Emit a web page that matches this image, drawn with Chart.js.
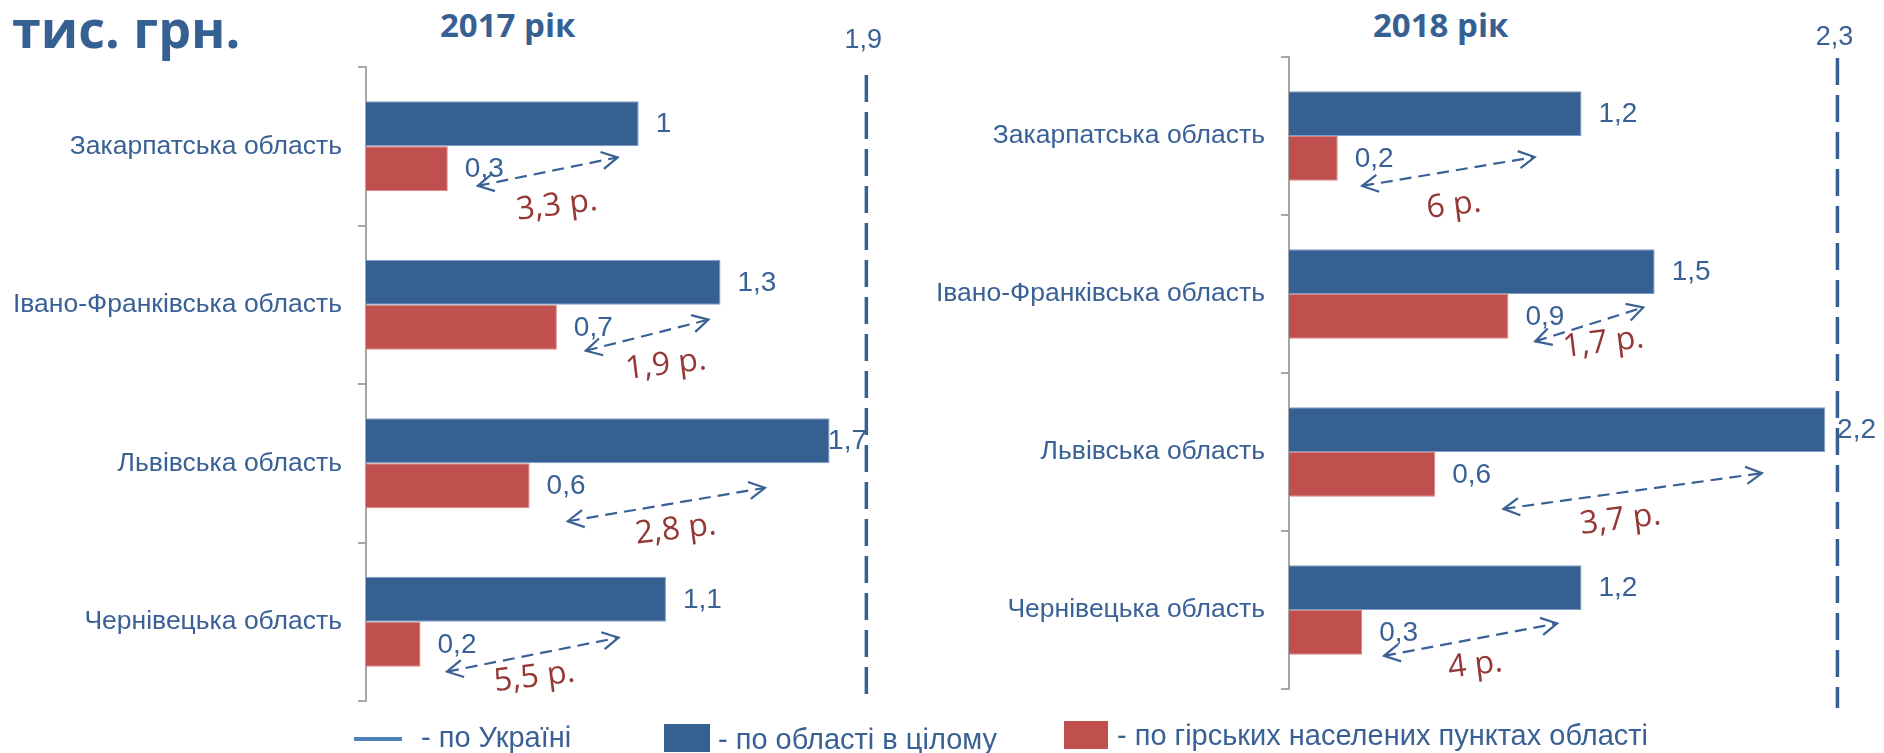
<!DOCTYPE html>
<html>
<head>
<meta charset="utf-8">
<title>Доходи по областях</title>
<script src="https://cdn.jsdelivr.net/npm/chart.js"></script>
<style>
  body { margin: 0; width: 1884px; height: 753px; background: #fff; position: relative; overflow: hidden; }
  canvas { position: absolute; top: 0; }
  #chart2017 { left: 0; }
  #chart2018 { left: 880px; }
  .head { position: absolute; font-family: "Open Sans", sans-serif; font-weight: bold; color: #376092; white-space: nowrap; line-height: 1; }
  .leg { position: absolute; font-family: "Liberation Sans", Arial, sans-serif; font-size: 29px; color: #3a6196; white-space: nowrap; line-height: 1; }
  .box { position: absolute; }
</style>
</head>
<body>
<div class="head" style="left:12px; top:2px; font-size:52px;">тис. грн.</div>
<div class="head" style="left:440px; top:8px; font-size:33px;">2017 рік</div>
<div class="head" style="left:1373px; top:8px; font-size:33px;">2018 рік</div>

<canvas id="chart2017" width="910" height="753"></canvas>
<canvas id="chart2018" width="1004" height="753"></canvas>

<div class="box" style="left:354px; top:737px; width:48px; height:4px; background:#4f81bd;"></div>
<div class="leg" style="left:421px; top:723px;">- по Україні</div>
<div class="box" style="left:664px; top:724px; width:46px; height:28px; background:#376092;"></div>
<div class="leg" style="left:718px; top:725px;">- по області в цілому</div>
<div class="box" style="left:1064px; top:721px; width:44px; height:28px; background:#c0504d;"></div>
<div class="leg" style="left:1117px; top:721px;">- по гірських населених пунктах області</div>

<script>
// ------------- Data -------------
const regions = ['Закарпатська область', 'Івано-Франківська область', 'Львівська область', 'Чернівецька область'];

const total2017 = [1.0, 1.3, 1.7, 1.1];
const mountain2017 = [0.3, 0.7, 0.6, 0.2];
const ratio2017 = ['3,3 р.', '1,9 р.', '2,8 р.', '5,5 р.'];

const total2018 = [1.2, 1.5, 2.2, 1.2];
const mountain2018 = [0.2, 0.9, 0.6, 0.3];
const ratio2018 = ['6 р.', '1,7 р.', '3,7 р.', '4 р.'];

// "по Україні" dashed line: where it sits and what it says
const ukraineValue = [1.835, 2.25];
const ukraineText = ['1,9', '2,3'];

const BLUE = '#376092';
const RED = '#c0504d';
const TEXT = '#3a6196';
const RATIO = '#953735';

const fmt = v => String(v).replace('.', ',');

// arrow placement per category: [x1, dy1, x2, dy2, textX, textDy] (x in data units, dy in category bands)
const arrows2017 = [
    [0.41, 0.25, 0.923, 0.07, 0.70, 0.375],
    [0.806, 0.29, 1.256, 0.094, 1.10, 0.38],
    [0.74, 0.366, 1.463, 0.155, 1.136, 0.42],
    [0.297, 0.315, 0.926, 0.10, 0.618, 0.35]
];
const arrows2018 = [
    [0.30, 0.316, 1.008, 0.133, 0.676, 0.44],
    [1.01, 0.30, 1.453, 0.085, 1.29, 0.31],
    [0.88, 0.36, 1.94, 0.134, 1.36, 0.43],
    [0.39, 0.29, 1.10, 0.085, 0.764, 0.35]
];

function drawHead(ctx, x, y, ang) {
    const len = 18, spread = 0.5;
    ctx.beginPath();
    ctx.moveTo(x + len * Math.cos(ang + spread), y + len * Math.sin(ang + spread));
    ctx.lineTo(x, y);
    ctx.lineTo(x + len * Math.cos(ang - spread), y + len * Math.sin(ang - spread));
    ctx.stroke();
}

// ------------- Annotations plugin -------------
const annotate = {
    id: 'annotate',
    afterDatasetsDraw(chart, args, opts) {
        const ctx = chart.ctx;
        const xs = chart.scales.x, ys = chart.scales.y, area = chart.chartArea;
        const band = ys.getPixelForValue(1) - ys.getPixelForValue(0);
        ctx.save();

        // value labels
        ctx.font = '28px "Liberation Sans"';
        ctx.fillStyle = TEXT;
        ctx.textBaseline = 'middle';
        ctx.textAlign = 'left';
        chart.data.datasets.forEach((ds, di) => {
            chart.getDatasetMeta(di).data.forEach((bar, i) => {
                const t = fmt(ds.data[i]);
                const w = ctx.measureText(t).width;
                let x = bar.x + 17;
                if (x + w > area.right + 2) x = area.right + 2 - w;
                ctx.fillText(t, x, bar.y + 1);
            });
        });

        // Ukraine line
        const lx = xs.getPixelForValue(opts.line);
        ctx.strokeStyle = BLUE;
        ctx.lineWidth = 3.5;
        ctx.setLineDash([27, 10]);
        ctx.beginPath();
        ctx.moveTo(lx, area.top + opts.lineTop);
        ctx.lineTo(lx, area.bottom + opts.lineBottom);
        ctx.stroke();
        ctx.setLineDash([]);
        ctx.textAlign = 'center';
        ctx.font = '27px "Liberation Sans"';
        ctx.fillText(opts.lineText, lx - 3, opts.lineTextY);

        // arrows + ratio text
        ctx.lineWidth = 2.2;
        opts.arrows.forEach((a, i) => {
            const yc = ys.getPixelForValue(i);
            const x1 = xs.getPixelForValue(a[0]), y1 = yc + a[1] * band;
            const x2 = xs.getPixelForValue(a[2]), y2 = yc + a[3] * band;
            ctx.strokeStyle = TEXT;
            ctx.setLineDash([12, 7]);
            ctx.beginPath();
            ctx.moveTo(x1, y1);
            ctx.lineTo(x2, y2);
            ctx.stroke();
            ctx.setLineDash([]);
            const ang = Math.atan2(y2 - y1, x2 - x1);
            drawHead(ctx, x1, y1, ang);
            drawHead(ctx, x2, y2, ang + Math.PI);

            const tx = xs.getPixelForValue(a[4]), ty = yc + a[5] * band;
            ctx.save();
            ctx.translate(tx, ty);
            ctx.rotate(-7 * Math.PI / 180);
            ctx.font = '32px "Open Sans"';
            ctx.fillStyle = RATIO;
            ctx.textAlign = 'center';
            ctx.textBaseline = 'middle';
            ctx.fillText(opts.ratios[i], 0, 0);
            ctx.restore();
        });
        ctx.restore();
    }
};

function makeChart(id, total, mountain, cfg) {
    return new Chart(document.getElementById(id), {
        type: 'bar',
        data: {
            labels: regions,
            datasets: [
                { label: 'по області в цілому', data: total, backgroundColor: BLUE, borderColor: '#7f9cc6', borderWidth: 1 },
                { label: 'по гірських населених пунктах області', data: mountain, backgroundColor: RED, borderColor: '#d98482', borderWidth: 1 }
            ]
        },
        options: {
            indexAxis: 'y',
            responsive: false,
            animation: false,
            categoryPercentage: 0.568,
            barPercentage: 1.0,
            layout: { padding: cfg.padding },
            scales: {
                x: { display: false, min: 0, max: cfg.max },
                y: {
                    afterFit: s => { s.width = cfg.axisX; },
                    ticks: { color: TEXT, padding: 16, font: { family: 'Liberation Sans', size: 26.5 } },
                    grid: { drawOnChartArea: false, tickLength: 8, color: '#a6a6a6', lineWidth: 2, offset: true },
                    border: { color: '#a6a6a6', width: 2 }
                }
            },
            plugins: {
                legend: { display: false },
                tooltip: { enabled: false },
                annotate: cfg.annot
            }
        },
        plugins: [annotate]
    });
}

makeChart('chart2017', total2017, mountain2017, {
    max: 1.83,
    axisX: 366,
    padding: { top: 67, bottom: 52, left: 0, right: 45 },
    annot: { line: ukraineValue[0], lineText: ukraineText[0], lineTop: 8, lineBottom: 1, lineTextY: 41, arrows: arrows2017, ratios: ratio2017 }
});

makeChart('chart2018', total2018, mountain2018, {
    max: 2.4,
    axisX: 409,
    padding: { top: 57, bottom: 64, left: 0, right: 10 },
    annot: { line: ukraineValue[1], lineText: ukraineText[1], lineTop: 1, lineBottom: 19, lineTextY: 38, arrows: arrows2018, ratios: ratio2018 }
});
</script>
</body>
</html>
